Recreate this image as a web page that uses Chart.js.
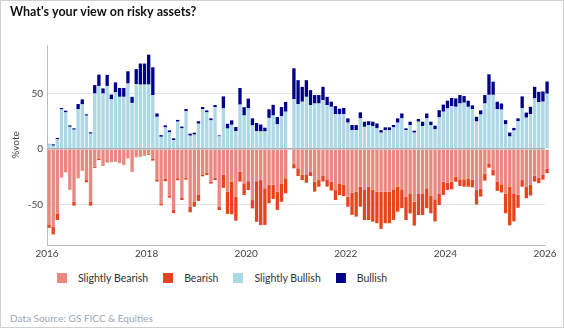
<!DOCTYPE html>
<html>
<head>
<meta charset="utf-8">
<title>Risky assets sentiment</title>
<script src="https://cdn.jsdelivr.net/npm/chart.js@4.4.1/dist/chart.umd.min.js"></script>
<style>
  html, body { margin: 0; padding: 0; background: #fff; }
  #wrap { position: relative; width: 564px; height: 328px; overflow: hidden; font-family: Lato, "Noto Sans", sans-serif; }
  #chartBox { position: absolute; left: 0; top: 0; width: 564px; height: 265px; }
  #legend { position: absolute; left: 57px; top: 272px; display: flex; align-items: center; }
  #legend .item { display: flex; align-items: center; margin-right: 15px; font-size: 10.5px; color: #333; }
  #legend .swatch { width: 10px; height: 10px; margin-right: 11px; }
  #source { position: absolute; left: 10px; top: 312px; font-size: 10px; color: #9ba7b6; }
  #frame { position: absolute; left: 0; top: 0; width: 564px; height: 328px; box-sizing: border-box; border: 1px solid #d0d0d0; pointer-events: none; }
</style>
</head>
<body>
<div id="wrap">
  <div id="chartBox"><canvas id="riskChart"></canvas></div>
  <div id="legend"></div>
  <div id="source">Data Source: GS FICC &amp; Equities</div>
  <div id="frame"></div>
</div>
<script>
// monthly survey, Jan 2016 .. Jan 2026 (one month missing in late 2020)
const firstYear = 2016;
const yearTicks = [2016, 2018, 2020, 2022, 2024, 2026];

const slightlyBullish = [
  4.2, 3, 8.7, 35.7, 33, 20, 17.4, 36, 40.2, 30,
  13.8, 50, 56.8, 50, 56.8, 44.7, 51, 47, 47, 59,
  41.5, 58.5, 58, 58, 58, 48.6, 29, 11, 19.5, 15,
  8, 24.6, 18.6, 34, 12, 13, 22.8, 36, 33, 25.8,
  37.8, 11.4, 36.6, 18.4, 21.8, 16.2, 40, 30.2, 36.8, 21.3,
  16.2, 15.8, 15.8, 28, 30.2, 22.2, 29.6, 33.6, null, 45,
  40.5, 42.6, 47, 39.6, 41, 41, 44, 39.6, 38, 31.5,
  31.5, 31.5, 23.7, 17, 17, 27.6, 20, 21.6, 20.7, 18.6,
  14.7, 17, 17, 19.5, 23.7, 27.6, 17, 21.6, 14.7, 24.6,
  20.7, 27.6, 21.6, 17.7, 28.5, 33.6, 36.6, 38.7, 38, 41,
  41.7, 38, 36, 24.8, 31, 41, 48.8, 48.8, 35.8, 35.5,
  22.2, 11.3, 16.7, 25, 36.8, 28.2, 31.5, 45.6, 42.2, 42.6, 49.8
];

const bullish = [
  0.4, 1.2, 1.2, 1.2, 1.5, 1.2, 1.2, 4.5, 4.5, 1.2,
  1.2, 7.6, 10.2, 4.6, 10, 4.3, 9, 8, 8, 11,
  5.5, 13.5, 19, 19, 27, 25, 3, 1.5, 1.8, 1.8,
  1.6, 1.6, 1.6, 2, 1.8, 1.7, 2.2, 1.8, 1.8, 1.8,
  1.8, 0.8, 10.8, 4.3, 4, 3.6, 15, 7.5, 8.6, 6.3,
  7.2, 6.2, 3.4, 7.8, 9.6, 6.6, 8.2, 8.8, null, 27.7,
  21.5, 13.4, 15, 13.4, 7.6, 7.6, 12, 7.4, 4.6, 7.2,
  4.8, 5.5, 3.9, 4.6, 4.6, 5.4, 4.6, 3.4, 3.9, 4.4,
  2.3, 2.5, 2.5, 2.1, 3.9, 4.4, 1.6, 3, 1.8, 2.4,
  3.9, 4.4, 3, 3.3, 6.5, 6.4, 6.9, 7.3, 7.6, 7.6,
  6, 5.5, 3.3, 4.2, 3.8, 7.6, 18.5, 11.8, 6.8, 5.5,
  3.8, 3.5, 2.3, 2.6, 10.6, 4.6, 6.5, 10.4, 9.3, 9.2, 11
];

const slightlyBearish = [
  -68.5, -70, -58.5, -25.8, -21, -35.5, -47.4, -25.8, -19, -28,
  -47.4, -16, -9, -14, -11, -11.4, -10.8, -12.3, -13.8, -7.5,
  -20, -7, -6.3, -5.4, -4.2, -9, -27.3, -49, -27, -42,
  -55, -26.4, -44, -25.8, -52, -47.4, -41.4, -22.8, -21.3, -29.4,
  -26, -52, -23, -38.5, -29.4, -43, -20.4, -31, -29, -46,
  -29, -28, -35.4, -32.4, -32.4, -38.4, -31, -26.4, null, -13.6,
  -17.4, -23, -23.4, -20.4, -29.4, -28, -24.3, -27.3, -29.4, -37,
  -31, -32.4, -43, -39.3, -38.4, -34, -37, -34, -37, -38.4,
  -38.4, -38.4, -38.4, -36.3, -34, -36.3, -43, -40, -47.4, -40,
  -40, -35.4, -42.3, -45.3, -40, -29.4, -30.3, -29.4, -25, -27.3,
  -27.3, -26.5, -27.5, -37, -35.8, -22, -13, -19, -29.2, -31.8,
  -40.2, -34, -40, -41.2, -28, -34.3, -32.4, -24.2, -26, -23.4, -17.7
];

const bearish = [
  -2.5, -7, -5.4, 0, 0, -1, -3.6, -0.5, -0.5, -2,
  -3.6, -1, -1, -1, -1, -0.5, -0.5, -0.5, -0.5, -0.8,
  -0.5, -0.5, -0.5, -0.5, -1, -1.5, -2, -1.8, -2, -1.8,
  -2.7, -1.8, -2, -1.8, -5, -4.5, -5.4, -1.8, -2.1, -1.8,
  -2, -3, -12, -20, -29.4, -21.6, -9, -10.5, -8, -7.5,
  -36.6, -40.5, -33, -16.5, -12.6, -16.5, -16.5, -13.5, null, -3.8,
  -7, -5, -7, -4, -9, -6, -5, -6.6, -8, -9,
  -10.5, -10, -9, -20, -22.5, -18, -27, -30, -28.5, -28.5,
  -33.6, -28.5, -28.5, -27.6, -22.5, -17, -21, -18, -21.6, -19.5,
  -19.5, -18, -15.6, -20, -10.5, -12, -6.6, -7, -4.5, -6,
  -6.6, -7.5, -7, -13, -7, -6.5, -3.8, -4.8, -8.5, -7.4,
  -17.7, -34.8, -25.2, -11.8, -6, -10, -9.5, -5.2, -4.8, -4.2, -4
];

const seriesNames = ['Slightly Bearish', 'Bearish', 'Slightly Bullish', 'Bullish'];
const seriesColors = ['#e98880', '#e8431f', '#add8e6', '#00008b'];

// bar sits in the middle of its month on a decimal-year axis
function toPoints(values) {
  return values.map((v, i) => ({ x: firstYear + (i + 0.5) / 12, y: v }));
}

const allSeries = [slightlyBearish, bearish, slightlyBullish, bullish];
const datasets = allSeries.map((vals, k) => ({
  label: seriesNames[k],
  data: toPoints(vals),
  backgroundColor: seriesColors[k],
  borderWidth: 0,
  categoryPercentage: 1,
  barPercentage: 0.8,
  clip: false
}));

const baseFont = 'Lato, "Noto Sans", sans-serif';

const chart = new Chart(document.getElementById('riskChart'), {
  type: 'bar',
  data: { datasets: datasets },
  options: {
    responsive: true,
    maintainAspectRatio: false,
    animation: false,
    layout: { padding: { left: 10, right: 19, top: 0, bottom: 0 } },
    plugins: {
      legend: { display: false },
      tooltip: { enabled: false },
      title: {
        display: true,
        text: "What's your view on risky assets?",
        align: 'start',
        color: '#111',
        font: { family: baseFont, size: 12.5, weight: 'bold' },
        padding: { top: 4.5, bottom: 25.5 }
      }
    },
    scales: {
      x: {
        type: 'linear',
        stacked: true,
        min: 2016,
        max: 2026,
        offset: false,
        grid: { display: false, offset: false, drawTicks: false },
        border: { display: true, color: '#bdbdbd' },
        afterBuildTicks: (scale) => { scale.ticks = yearTicks.map(v => ({ value: v })); },
        ticks: {
          color: '#444',
          padding: 3,
          maxRotation: 0,
          font: { family: baseFont, size: 10 },
          callback: (v) => String(v)
        },
        afterFit: (scale) => { scale.height = 20; }
      },
      y: {
        stacked: true,
        min: -86.5,
        max: 93.7,
        grid: {
          drawTicks: false,
          color: (c) => (c.tick && c.tick.value === 0 ? '#a9a9a9' : '#e2e2e2'),
          lineWidth: (c) => (c.tick && c.tick.value === 0 ? 1.5 : 1)
        },
        border: { display: true, color: '#bdbdbd' },
        ticks: {
          stepSize: 50,
          includeBounds: false,
          padding: 4,
          color: '#444',
          font: { family: baseFont, size: 10 }
        },
        title: {
          display: true,
          text: '%vote',
          color: '#444',
          padding: 0,
          font: { family: baseFont, size: 10 }
        },
        afterFit: (scale) => { scale.width = 37; }
      }
    }
  }
});

// legend as html, built from the chart's datasets
const legendEl = document.getElementById('legend');
chart.data.datasets.forEach((ds) => {
  const item = document.createElement('div');
  item.className = 'item';
  const sw = document.createElement('span');
  sw.className = 'swatch';
  sw.style.background = ds.backgroundColor;
  const txt = document.createElement('span');
  txt.textContent = ds.label;
  item.appendChild(sw);
  item.appendChild(txt);
  legendEl.appendChild(item);
});
</script>
</body>
</html>
